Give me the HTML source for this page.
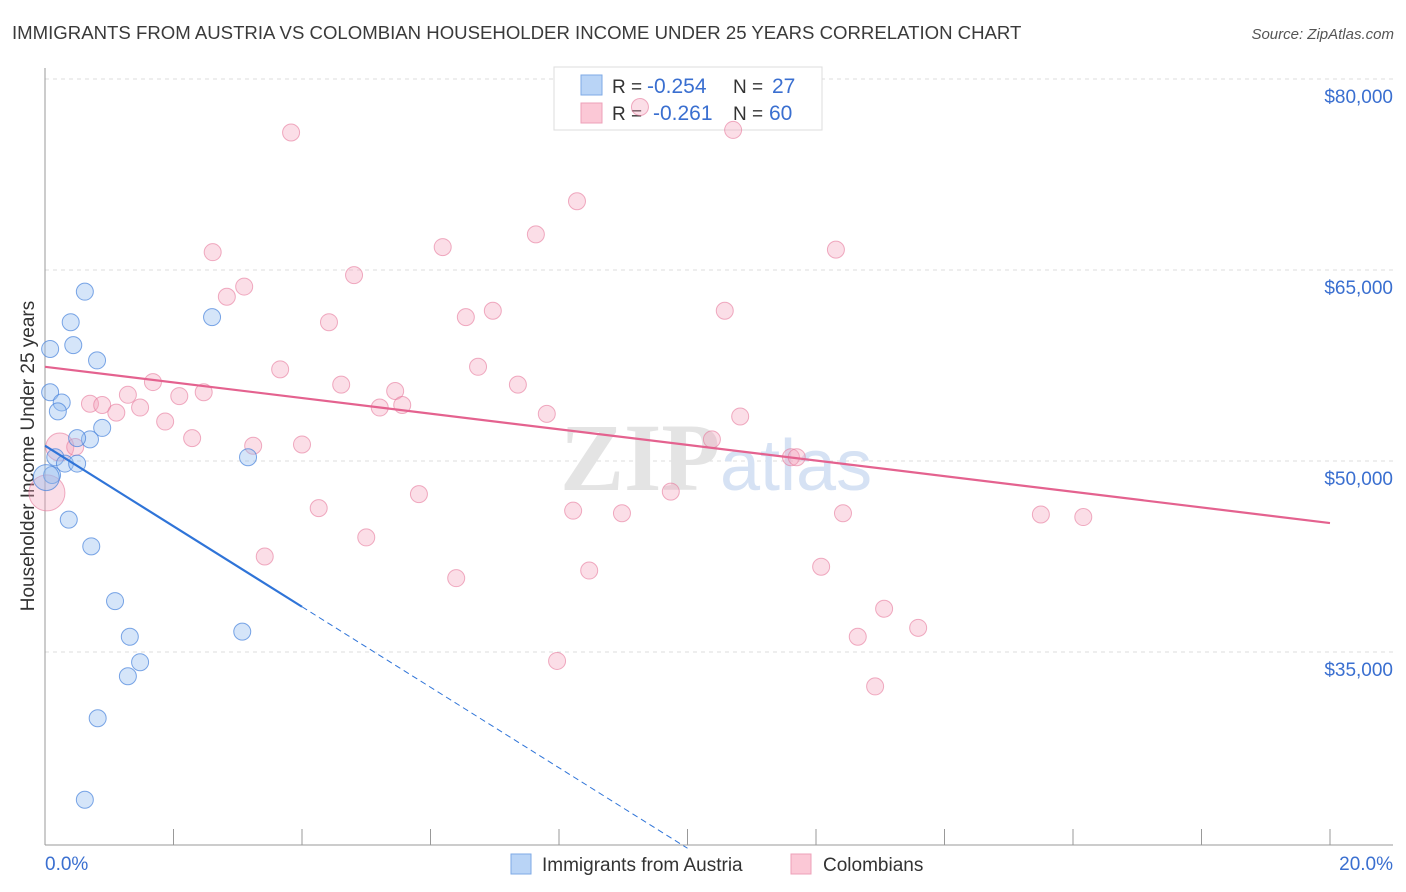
<!DOCTYPE html>
<html><head><meta charset="utf-8"><style>
body{margin:0;background:#fff;font-family:"Liberation Sans",sans-serif}
#c{position:relative;width:1406px;height:892px;overflow:hidden}
</style></head><body>
<div id="c">
<svg id="s" width="1406" height="892"></svg>
</div>
<script>
const blueX=[0.62,0.40,0.08,0.44,0.81,0.08,0.26,0.20,0.89,0.70,0.50,0.16,0.31,0.50,0.11,0.02,0.37,0.72,1.09,1.32,1.48,1.29,0.82,0.62,2.60,3.16,3.07];
const blueY=[63300,60900,58800,59100,57900,55400,54600,53900,52600,51700,51800,50300,49800,49800,48900,48700,45400,43300,39000,36200,34200,33100,29800,23400,61300,50300,36600];
const blueR=[8.5,8.5,8.5,8.5,8.5,8.5,8.5,8.5,8.5,8.5,8.5,8.5,8.5,8.5,8.5,13,8.5,8.5,8.5,8.5,8.5,8.5,8.5,8.5,8.5,8.5,8.5];
const pinkX=[3.83,9.26,10.71,8.28,7.64,2.61,6.19,12.31,4.81,3.10,2.83,4.42,6.55,6.97,10.58,3.66,6.74,1.68,4.61,7.36,5.45,1.29,2.47,2.09,0.70,0.89,1.48,1.11,5.21,5.56,7.81,10.82,1.87,2.29,3.24,4.00,10.38,11.61,11.70,0.23,0.47,0.03,5.82,9.74,4.26,8.22,8.98,12.42,15.50,16.16,5.00,3.42,6.40,8.47,12.08,13.06,13.59,12.65,7.97,12.92];
const pinkY=[75800,77800,76000,70400,67800,66400,66800,66600,64600,63700,62900,60900,61300,61800,61800,57200,57400,56200,56000,56000,55500,55200,55400,55100,54500,54400,54200,53800,54200,54400,53700,53500,53100,51800,51200,51300,51700,50300,50300,51100,51100,47500,47400,47600,46300,46100,45900,45900,45800,45600,44000,42500,40800,41400,41700,38400,36900,36200,34300,32300];
const yTicks=[80000,65000,50000,35000];
const yTickLabels=["$80,000","$65,000","$50,000","$35,000"];
const pinkTrend=[57400,45130];
const blueTrend=[51200,-3161];
const NS="http://www.w3.org/2000/svg";
const s=document.getElementById('s');
const X=v=>45+v/20*1285;
const Y=v=>79+(80000-v)/78.53;
function mk(t,a,p){const e=document.createElementNS(NS,t);for(const k in a)e.setAttribute(k,a[k]);(p||s).appendChild(e);return e;}
function tx(x,y,str,a,p){const e=mk('text',Object.assign({x:x,y:y},a),p);e.textContent=str;return e;}
let e;
e=tx(12,39,"IMMIGRANTS FROM AUSTRIA VS COLOMBIAN HOUSEHOLDER INCOME UNDER 25 YEARS CORRELATION CHART",{'font-size':18.6,fill:'#3a3a3a'});

e=tx(1394,39,"Source: ZipAtlas.com",{'font-size':15,fill:'#555','font-style':'italic','text-anchor':'end'});

yTicks.forEach((t,i)=>{
 e=mk('line',{x1:45,x2:1393,y1:Y(t),y2:Y(t),stroke:'#dcdcdc','stroke-dasharray':'4,4'});
 
 e=tx(1393,Y(t)+24,yTickLabels[i],{'font-size':19,fill:'#3a6fd0','text-anchor':'end'});
 
});
e=mk('line',{x1:45,x2:45,y1:68,y2:845,stroke:'#999'});

e=mk('line',{x1:45,x2:1393,y1:845,y2:845,stroke:'#999'});

for(let i=1;i<=10;i++){e=mk('line',{x1:X(i*2),x2:X(i*2),y1:829,y2:845,stroke:'#999'});
 }
e=tx(45,870,"0.0%",{'font-size':19,fill:'#3a6fd0'});

e=tx(1393,870,"20.0%",{'font-size':19,fill:'#3a6fd0','text-anchor':'end'});

e=tx(0,0,"Householder Income Under 25 years",{'font-size':19,fill:'#333','text-anchor':'middle',transform:'translate(34,456) rotate(-90)'});

e=tx(720,490,"ZIP",{'font-size':96,fill:'#e4e4e4','text-anchor':'end','font-family':'Liberation Serif','font-weight':'bold'});

e=tx(720,490,"atlas",{'font-size':72,fill:'#d6e2f4'});

const lg=mk('g',{});

mk('rect',{x:554,y:67,width:268,height:63,fill:'#fff',stroke:'#ddd'},lg);
mk('rect',{x:581,y:75,width:21,height:20,fill:'#b9d4f6',stroke:'#7eaae6'},lg);
mk('rect',{x:581,y:103,width:21,height:20,fill:'#fbc8d6',stroke:'#eea0b8'},lg);
tx(612,93,"R = ",{'font-size':19,fill:'#333'},lg);tx(647,93,"-0.254",{'font-size':21,fill:'#3a6fd0'},lg);
tx(733,93,"N = ",{'font-size':19,fill:'#333'},lg);tx(772,93,"27",{'font-size':21,fill:'#3a6fd0'},lg);
tx(612,120,"R = ",{'font-size':19,fill:'#333'},lg);tx(653,120,"-0.261",{'font-size':21,fill:'#3a6fd0'},lg);
tx(733,120,"N = ",{'font-size':19,fill:'#333'},lg);tx(769,120,"60",{'font-size':21,fill:'#3a6fd0'},lg);
pinkX.forEach((x,i)=>{const r=i===41?18:(i===39?14:8.5);
 e=mk('circle',{cx:X(x),cy:Y(pinkY[i]),r:r,fill:'rgba(244,160,185,0.35)',stroke:'rgba(230,120,155,0.6)','stroke-width':1});
 });
blueX.forEach((x,i)=>{
 e=mk('circle',{cx:X(x),cy:Y(blueY[i]),r:blueR[i],fill:'rgba(150,190,240,0.4)',stroke:'rgba(70,130,220,0.7)','stroke-width':1});
 });
e=mk('line',{x1:X(0),y1:Y(pinkTrend[0]),x2:X(20),y2:Y(pinkTrend[1]),stroke:'#e4628f','stroke-width':2.2});

e=mk('line',{x1:X(0),y1:Y(blueTrend[0]),x2:X(4),y2:Y(blueTrend[0]+blueTrend[1]*4),stroke:'#2f74d8','stroke-width':2.2});

e=mk('line',{x1:X(4),y1:Y(blueTrend[0]+blueTrend[1]*4),x2:X(10),y2:Y(blueTrend[0]+blueTrend[1]*10),stroke:'#2f74d8','stroke-width':1,'stroke-dasharray':'6,4'});

const b1=mk('g',{});
mk('rect',{x:511,y:854,width:20,height:20,fill:'#b9d4f6',stroke:'#7eaae6'},b1);
tx(542,871,"Immigrants from Austria",{'font-size':19,fill:'#333'},b1);
const b2=mk('g',{});
mk('rect',{x:791,y:854,width:20,height:20,fill:'#fbc8d6',stroke:'#eea0b8'},b2);
tx(823,871,"Colombians",{'font-size':19,fill:'#333'},b2);
</script>
</body></html>
